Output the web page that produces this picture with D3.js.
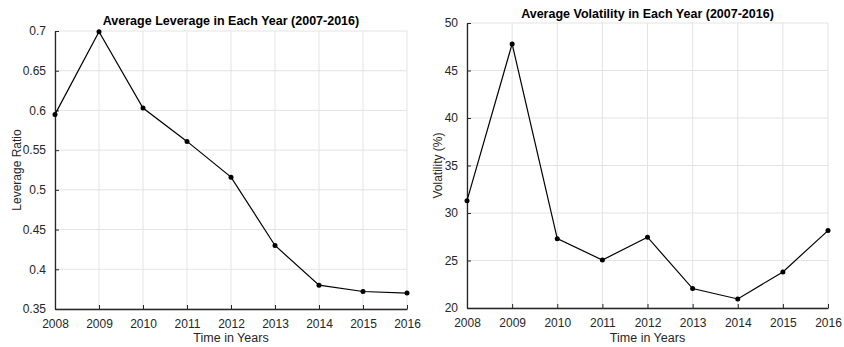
<!DOCTYPE html>
<html>
<head>
<meta charset="utf-8">
<script src="https://cdn.jsdelivr.net/npm/d3@7"></script>
<style>
  body { margin: 0; background: #fff; }
  svg { display: block; font-family: "Liberation Sans", Arial, Helvetica, sans-serif; }
</style>
</head>
<body>
<svg id="chart" width="844" height="347"></svg>
<script>
// Yearly averages, 2008-2016
const years = [2008, 2009, 2010, 2011, 2012, 2013, 2014, 2015, 2016];
const leverage = [0.595, 0.699, 0.603, 0.561, 0.516, 0.430, 0.380, 0.372, 0.370];
const volatility = [31.3, 47.8, 27.3, 25.05, 27.45, 22.05, 20.95, 23.8, 28.15];
const leverageTicks = [0.35, 0.4, 0.45, 0.5, 0.55, 0.6, 0.65, 0.7];
const volatilityTicks = [20, 25, 30, 35, 40, 45, 50];

const svg = d3.select("#chart");

function panel(opts) {
  const { left, right, top, bottom, values, yDomain, yTicks, title, yLabel, yLabelX, titleY } = opts;
  const g = svg.append("g");
  const x = d3.scaleLinear().domain([2008, 2016]).range([left, right]);
  const y = d3.scaleLinear().domain(yDomain).range([bottom, top]);
  const axisColor = "#262626";
  const gridColor = "#e3e3e3";

  // grid
  g.append("g").selectAll("line").data(years).join("line")
    .attr("x1", d => x(d)).attr("x2", d => x(d))
    .attr("y1", top).attr("y2", bottom)
    .attr("stroke", gridColor).attr("stroke-width", 1);
  g.append("g").selectAll("line").data(yTicks).join("line")
    .attr("x1", left).attr("x2", right)
    .attr("y1", d => y(d)).attr("y2", d => y(d))
    .attr("stroke", gridColor).attr("stroke-width", 1);

  // axes with inward ticks
  const xAxis = d3.axisBottom(x).tickValues(years).tickFormat(d3.format("d"))
    .tickSizeInner(-4).tickSizeOuter(0).tickPadding(10);
  const yAxis = d3.axisLeft(y).tickValues(yTicks).tickFormat(d => String(d))
    .tickSizeInner(-4).tickSizeOuter(0).tickPadding(9);

  const gx = g.append("g").attr("transform", `translate(0,${bottom})`).call(xAxis);
  const gy = g.append("g").attr("transform", `translate(${left},0)`).call(yAxis);
  [gx, gy].forEach(a => {
    a.selectAll("path").attr("stroke", axisColor).attr("stroke-width", 1.3);
    a.selectAll("line").attr("stroke", axisColor);
    a.selectAll("text").attr("fill", axisColor).style("font-size", "12px");
  });

  // series
  const line = d3.line().x((d, i) => x(years[i])).y(d => y(d));
  g.append("path").datum(values)
    .attr("fill", "none").attr("stroke", "#000").attr("stroke-width", 1.2)
    .attr("d", line);
  g.append("g").selectAll("circle").data(values).join("circle")
    .attr("cx", (d, i) => x(years[i])).attr("cy", d => y(d))
    .attr("r", 2.5).attr("fill", "#000");

  // labels
  g.append("text").attr("x", (left + right) / 2).attr("y", titleY)
    .attr("text-anchor", "middle").style("font-size", "12.5px").style("font-weight", "bold")
    .attr("fill", "#000").text(title);
  g.append("text").attr("x", (left + right) / 2).attr("y", 342)
    .attr("text-anchor", "middle").style("font-size", "12.5px")
    .attr("fill", axisColor).text("Time in Years");
  g.append("text")
    .attr("transform", `translate(${yLabelX},${(top + bottom) / 2}) rotate(-90)`)
    .attr("text-anchor", "middle").style("font-size", "12px")
    .attr("fill", axisColor).text(yLabel);
}

panel({
  left: 55, right: 407, top: 31, bottom: 309,
  values: leverage, yDomain: [0.35, 0.7], yTicks: leverageTicks,
  title: "Average Leverage in Each Year (2007-2016)", titleY: 25,
  yLabel: "Leverage Ratio", yLabelX: 21
});

panel({
  left: 467, right: 828, top: 23, bottom: 308,
  values: volatility, yDomain: [20, 50], yTicks: volatilityTicks,
  title: "Average Volatility in Each Year (2007-2016)", titleY: 18,
  yLabel: "Volatility (%)", yLabelX: 442
});
</script>
</body>
</html>
